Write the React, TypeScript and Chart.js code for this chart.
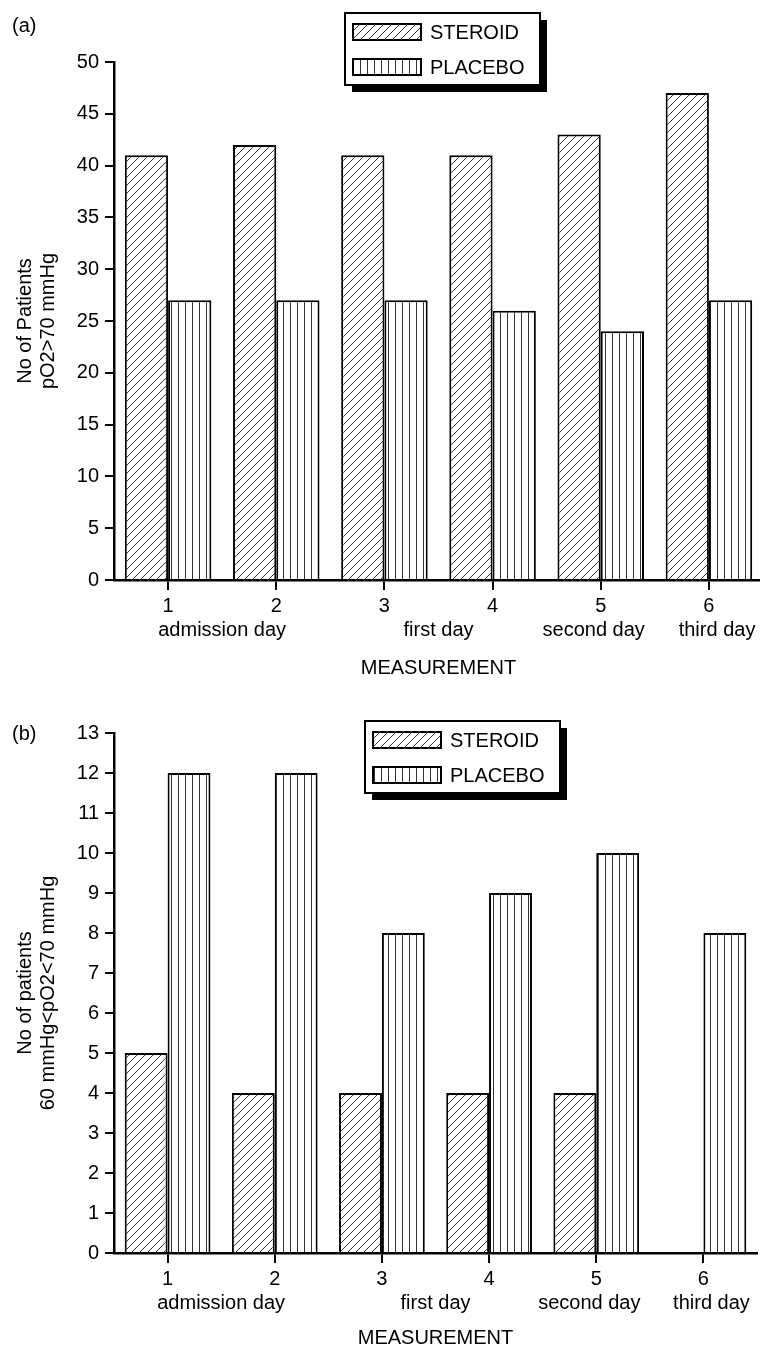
import React, { useEffect, useRef } from 'react';
import { Chart, registerables } from 'chart.js';

Chart.register(...registerables);

// ---------- data ----------
const categories = ['1', '2', '3', '4', '5', '6'];
const dayLabels = ['admission day', 'first day', 'second day', 'third day'];
const seriesNames = ['STEROID', 'PLACEBO'];
const steroidA = [41, 42, 41, 41, 43, 47];
const placeboA = [27, 27, 27, 26, 24, 27];
const steroidB = [5, 4, 4, 4, 4, 0];
const placeboB = [12, 12, 8, 9, 10, 8];
const yTitleA = ['No of Patients', 'pO2>70 mmHg'];
const yTitleB = ['No of patients', '60 mmHg<pO2<70 mmHg'];
const xTitle = 'MEASUREMENT';

const FONT = '"Liberation Sans", Arial, Helvetica, sans-serif';

function hatchPattern(ctx: CanvasRenderingContext2D) {
  const c = document.createElement('canvas');
  c.width = 8;
  c.height = 8;
  const g = c.getContext('2d')!;
  g.fillStyle = '#fff';
  g.fillRect(0, 0, 8, 8);
  g.strokeStyle = '#333';
  g.lineWidth = 1;
  g.beginPath();
  g.moveTo(-1, 9);
  g.lineTo(9, -1);
  g.moveTo(-1, 1);
  g.lineTo(1, -1);
  g.moveTo(7, 9);
  g.lineTo(9, 7);
  g.stroke();
  return ctx.createPattern(c, 'repeat')!;
}

function vlinePattern(ctx: CanvasRenderingContext2D) {
  const c = document.createElement('canvas');
  c.width = 7;
  c.height = 4;
  const g = c.getContext('2d')!;
  g.fillStyle = '#fff';
  g.fillRect(0, 0, 7, 4);
  g.fillStyle = '#333';
  g.fillRect(3, 0, 1, 4);
  return ctx.createPattern(c, 'repeat')!;
}

const boxLegend = {
  id: 'boxLegend',
  afterDraw(chart: any, _args: any, opts: any) {
    const { x, y, w, h } = opts;
    const ctx = chart.ctx as CanvasRenderingContext2D;
    ctx.save();
    ctx.fillStyle = '#000';
    ctx.fillRect(x + 7, y + 7, w, h);
    ctx.fillStyle = '#fff';
    ctx.fillRect(x, y, w, h);
    ctx.lineWidth = 2;
    ctx.strokeStyle = '#000';
    ctx.strokeRect(x, y, w, h);
    chart.data.datasets.forEach((ds: any, i: number) => {
      const ry = y + 19 + i * 35;
      ctx.fillStyle = ds.backgroundColor;
      ctx.fillRect(x + 8, ry - 8, 68, 16);
      ctx.lineWidth = 2;
      ctx.strokeStyle = '#000';
      ctx.strokeRect(x + 8, ry - 8, 68, 16);
      ctx.fillStyle = '#000';
      ctx.font = `20px ${FONT}`;
      ctx.textAlign = 'left';
      ctx.textBaseline = 'middle';
      ctx.fillText(ds.label, x + 85, ry + 1);
    });
    ctx.restore();
  },
};

const dayLabelPlugin = {
  id: 'dayLabels',
  afterDraw(chart: any) {
    const xs = chart.scales.x;
    const ctx = chart.ctx as CanvasRenderingContext2D;
    const anchors = [0.5, 2.5, 4 - 0.065, 5 + 0.075];
    ctx.save();
    ctx.fillStyle = '#000';
    ctx.font = `20px ${FONT}`;
    ctx.textAlign = 'center';
    ctx.textBaseline = 'middle';
    dayLabels.forEach((t, i) => {
      ctx.fillText(t, xs.getPixelForValue(anchors[i]), chart.chartArea.bottom + 50);
    });
    ctx.restore();
  },
};

function BarPanel(props: {
  steroid: number[];
  placebo: number[];
  yMax: number;
  step: number;
  yTitle: string[];
  width: number;
  height: number;
  padTop: number;
  padRight: number;
  xAxisHeight: number;
  legend: { x: number; y: number; w: number; h: number };
}) {
  const ref = useRef<HTMLCanvasElement>(null);
  useEffect(() => {
    const canvas = ref.current!;
    const ctx = canvas.getContext('2d')!;
    const chart = new Chart(ctx, {
      type: 'bar',
      data: {
        labels: categories,
        datasets: [
          {
            label: seriesNames[0],
            data: props.steroid,
            backgroundColor: hatchPattern(ctx) as any,
            borderColor: '#000',
            borderWidth: 2,
            barPercentage: 1,
            categoryPercentage: 0.8,
          },
          {
            label: seriesNames[1],
            data: props.placebo,
            backgroundColor: vlinePattern(ctx) as any,
            borderColor: '#000',
            borderWidth: 2,
            barPercentage: 1,
            categoryPercentage: 0.8,
          },
        ],
      },
      options: {
        responsive: false,
        animation: false,
        devicePixelRatio: 1,
        layout: { padding: { top: props.padTop, left: 0, right: props.padRight, bottom: 0 } },
        font: { family: FONT, size: 20 } as any,
        plugins: {
          legend: { display: false },
          tooltip: { enabled: false },
          boxLegend: props.legend,
        } as any,
        scales: {
          x: {
            type: 'category',
            offset: true,
            grid: {
              offset: false,
              drawOnChartArea: false,
              drawTicks: true,
              tickLength: 10,
              color: '#000',
              lineWidth: 2,
            },
            border: { display: true, color: '#000', width: 2.5, z: 1 } as any,
            ticks: {
              color: '#000',
              font: { family: FONT, size: 20 },
              padding: 4,
              maxRotation: 0,
              autoSkip: false,
            },
            title: {
              display: true,
              text: xTitle,
              color: '#000',
              font: { family: FONT, size: 20, lineHeight: 1.15 },
              padding: 0,
            },
            afterFit: (s: any) => {
              s.height = props.xAxisHeight;
            },
          },
          y: {
            min: 0,
            max: props.yMax,
            ticks: {
              stepSize: props.step,
              color: '#000',
              font: { family: FONT, size: 20 },
              padding: 6,
            },
            grid: {
              drawOnChartArea: false,
              drawTicks: true,
              tickLength: 9,
              color: '#000',
              lineWidth: 2,
            },
            border: { display: true, color: '#000', width: 2.5, z: 1 } as any,
            title: {
              display: true,
              text: props.yTitle,
              color: '#000',
              font: { family: FONT, size: 20, lineHeight: 1.15 },
              padding: { top: 13.5, bottom: 0 },
            },
            afterFit: (s: any) => {
              s.width = 114;
            },
          },
        },
      },
      plugins: [boxLegend, dayLabelPlugin],
    });
    return () => chart.destroy();
  }, []);
  return (
    <canvas
      ref={ref}
      width={props.width}
      height={props.height}
      style={{ display: 'block', width: props.width, height: props.height }}
    />
  );
}

export default function App() {
  const label: React.CSSProperties = {
    position: 'absolute',
    left: 12,
    font: `20px ${FONT}`,
    lineHeight: '23px',
    color: '#000',
  };
  return (
    <div
      style={{
        position: 'absolute',
        left: 0,
        top: 0,
        width: 760,
        height: 1347,
        overflow: 'hidden',
        background: '#fff',
      }}
    >
      <div style={{ position: 'absolute', left: 0, top: 0 }}>
        <BarPanel
          steroid={steroidA}
          placebo={placeboA}
          yMax={50}
          step={5}
          yTitle={yTitleA}
          width={763}
          height={680}
          padTop={62}
          padRight={0}
          xAxisHeight={100}
          legend={{ x: 345, y: 13, w: 195, h: 72 }}
        />
      </div>
      <div style={{ position: 'absolute', left: 0, top: 680 }}>
        <BarPanel
          steroid={steroidB}
          placebo={placeboB}
          yMax={13}
          step={1}
          yTitle={yTitleB}
          width={760}
          height={670}
          padTop={53}
          padRight={3}
          xAxisHeight={97}
          legend={{ x: 365, y: 41, w: 195, h: 72 }}
        />
      </div>
      <div style={{ ...label, top: 13.5 }}>(a)</div>
      <div style={{ ...label, top: 721.5 }}>(b)</div>
    </div>
  );
}
